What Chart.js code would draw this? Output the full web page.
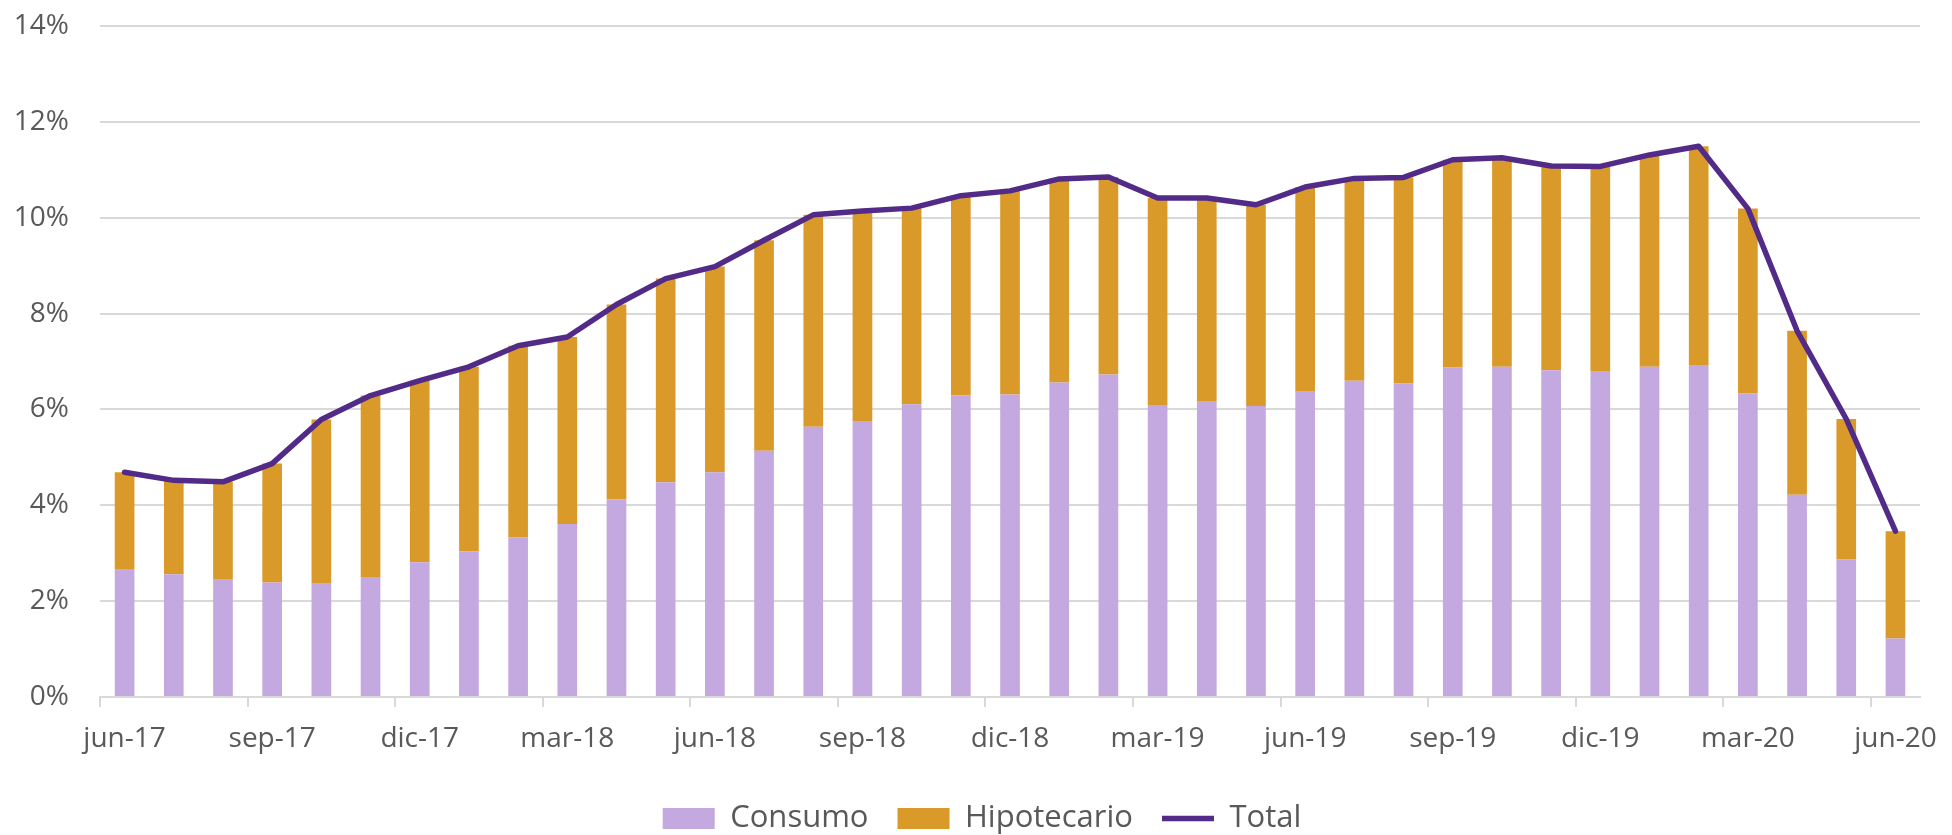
<!DOCTYPE html>
<html lang="es">
<head>
  <meta charset="UTF-8">
  <title>Consumo e Hipotecario</title>
  <script src="https://cdn.jsdelivr.net/npm/chart.js"></script>
  <style>
    body { margin: 0; background: #fff; }
    #wrap { width: 1952px; height: 835px; position: relative; }
  </style>
</head>
<body>
  <div id="wrap"><canvas id="chart"></canvas></div>

  <script>
    const months = [
      'jun-17', 'jul-17', 'ago-17', 'sep-17', 'oct-17', 'nov-17', 'dic-17', 'ene-18', 'feb-18', 'mar-18',
      'abr-18', 'may-18', 'jun-18', 'jul-18', 'ago-18', 'sep-18', 'oct-18', 'nov-18', 'dic-18', 'ene-19',
      'feb-19', 'mar-19', 'abr-19', 'may-19', 'jun-19', 'jul-19', 'ago-19', 'sep-19', 'oct-19', 'nov-19',
      'dic-19', 'ene-20', 'feb-20', 'mar-20', 'abr-20', 'may-20', 'jun-20'
    ];

    const consumo = [
      2.67, 2.56, 2.46, 2.39, 2.38, 2.49, 2.81, 3.04, 3.33, 3.61,
      4.12, 4.48, 4.69, 5.14, 5.64, 5.76, 6.11, 6.29, 6.31, 6.56,
      6.73, 6.09, 6.16, 6.07, 6.37, 6.60, 6.54, 6.88, 6.89, 6.82,
      6.80, 6.89, 6.91, 6.34, 4.22, 2.87, 1.22
    ];

    const hipotecario = [
      2.02, 1.96, 2.03, 2.48, 3.41, 3.80, 3.79, 3.85, 4.00, 3.90,
      4.07, 4.25, 4.29, 4.39, 4.42, 4.38, 4.09, 4.17, 4.25, 4.25,
      4.12, 4.32, 4.25, 4.20, 4.27, 4.22, 4.30, 4.33, 4.36, 4.26,
      4.27, 4.42, 4.58, 3.85, 3.42, 2.93, 2.24
    ];

    const total = [
      4.69, 4.52, 4.49, 4.87, 5.79, 6.29, 6.60, 6.89, 7.33, 7.51,
      8.19, 8.73, 8.98, 9.53, 10.06, 10.14, 10.20, 10.46, 10.56, 10.81,
      10.85, 10.41, 10.41, 10.27, 10.64, 10.82, 10.84, 11.21, 11.25, 11.08,
      11.07, 11.31, 11.49, 10.19, 7.64, 5.80, 3.46
    ];

    const yTicks = [0, 2, 4, 6, 8, 10, 12, 14];

    const textColor = '#595959';
    const gridColor = '#d9d9d9';
    const fontFamily = '"Open Sans", "Noto Sans", sans-serif';

    // the legend in the original sits a little right of centre
    const legendShift = {
      id: 'legendShift',
      afterLayout(chart) {
        chart.legend.left += 18;
        chart.legend.right += 18;
      }
    };

    const ctx = document.getElementById('chart').getContext('2d');

    new Chart(ctx, {
      type: 'bar',
      data: {
        labels: months,
        datasets: [
          {
            label: 'Consumo',
            data: consumo,
            backgroundColor: '#c4a8e0',
            borderWidth: 0,
            stack: 'bars',
            order: 1,
            pointStyle: 'rect',
            categoryPercentage: 1,
            barPercentage: 0.4
          },
          {
            label: 'Hipotecario',
            data: hipotecario,
            backgroundColor: '#da9a2a',
            borderWidth: 0,
            stack: 'bars',
            order: 1,
            pointStyle: 'rect',
            categoryPercentage: 1,
            barPercentage: 0.4
          },
          {
            type: 'line',
            label: 'Total',
            data: total,
            borderColor: '#522a87',
            backgroundColor: '#522a87',
            borderWidth: 5.5,
            borderCapStyle: 'round',
            borderJoinStyle: 'round',
            pointRadius: 0,
            pointStyle: 'line',
            tension: 0,
            stack: 'line',
            order: 0
          }
        ]
      },
      options: {
        responsive: true,
        maintainAspectRatio: false,
        animation: false,
        layout: { padding: { top: 26, right: 24, bottom: -9, left: 0 } },
        plugins: {
          tooltip: { enabled: false },
          legend: {
            position: 'bottom',
            labels: {
              usePointStyle: true,
              pointStyleWidth: 52,
              boxHeight: 21,
              padding: 29,
              color: textColor,
              font: { family: fontFamily, size: 31 },
              sort: (a, b) => a.datasetIndex - b.datasetIndex
            }
          }
        },
        scales: {
          x: {
            stacked: true,
            offset: true,
            afterFit: (s) => { s.height = 77; },
            border: { color: gridColor, width: 2 },
            grid: {
              offset: true,
              drawOnChartArea: false,
              tickLength: 10,
              lineWidth: 2,
              color: (c) => (c.index % 3 === 0 ? gridColor : 'rgba(0,0,0,0)')
            },
            ticks: {
              autoSkip: false,
              maxRotation: 0,
              padding: 15,
              color: textColor,
              font: { family: fontFamily, size: 28 },
              callback: function (value, index) {
                return index % 3 === 0 ? this.getLabelForValue(value) : '';
              }
            }
          },
          y: {
            stacked: true,
            min: yTicks[0],
            max: yTicks[yTicks.length - 1],
            afterFit: (s) => {
              s.width = 100;
              // tick padding is only meant to push labels left, not down
              s.paddingTop = 0;
              s.paddingBottom = 0;
            },
            afterBuildTicks: (s) => { s.ticks = yTicks.map((v) => ({ value: v })); },
            border: { display: false },
            grid: { color: gridColor, lineWidth: 2, drawTicks: false },
            ticks: {
              padding: 31,
              color: textColor,
              font: { family: fontFamily, size: 28 },
              callback: (v) => v + '%'
            }
          }
        }
      },
      plugins: [legendShift]
    });
  </script>
</body>
</html>
